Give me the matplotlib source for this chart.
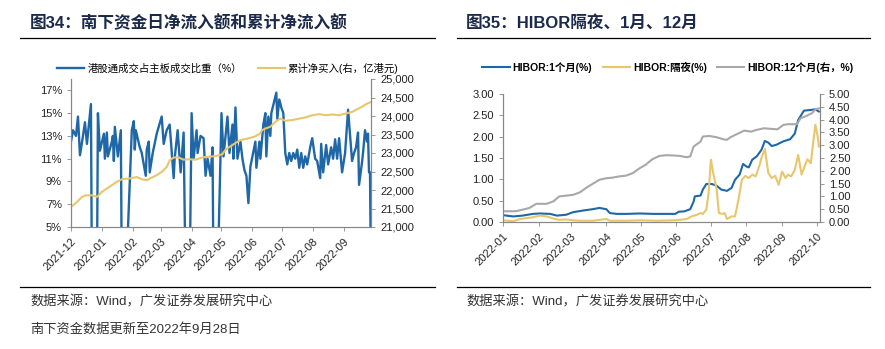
import matplotlib
matplotlib.use('Agg')
import matplotlib.pyplot as plt
import matplotlib.dates as mdates
from matplotlib.lines import Line2D
import pandas as pd

plt.rcParams['font.family'] = ['Liberation Sans', 'Noto Sans CJK SC', 'DejaVu Sans']
plt.rcParams['axes.unicode_minus'] = False

# ---------------------------------------------------------------- data, fig 34
share_dates = [
    '2021-12-01', '2021-12-03', '2021-12-06', '2021-12-08', '2021-12-10', '2021-12-13',
    '2021-12-15', '2021-12-17', '2021-12-21', '2021-12-22', '2021-12-27', '2021-12-28',
    '2021-12-30', '2022-01-03', '2022-01-04', '2022-01-06', '2022-01-07', '2022-01-11',
    '2022-01-12', '2022-01-13', '2022-01-14', '2022-01-17', '2022-01-20', '2022-01-21',
    '2022-01-25', '2022-01-31', '2022-02-02', '2022-02-03', '2022-02-04', '2022-02-08',
    '2022-02-10', '2022-02-14', '2022-02-15', '2022-02-17', '2022-02-18', '2022-02-21',
    '2022-02-25', '2022-03-02', '2022-03-04', '2022-03-07', '2022-03-10', '2022-03-14',
    '2022-03-15', '2022-03-18', '2022-03-21', '2022-03-24', '2022-03-26', '2022-03-30',
    '2022-04-01', '2022-04-03', '2022-04-06', '2022-04-07', '2022-04-10', '2022-04-13',
    '2022-04-15', '2022-04-17', '2022-04-18', '2022-04-20', '2022-04-22', '2022-04-23',
    '2022-04-27', '2022-05-01', '2022-05-03', '2022-05-07', '2022-05-09', '2022-05-12',
    '2022-05-13', '2022-05-15', '2022-05-17', '2022-05-19', '2022-05-20', '2022-05-22',
    '2022-05-24', '2022-05-26', '2022-05-28', '2022-05-30', '2022-06-04', '2022-06-05',
    '2022-06-08', '2022-06-09', '2022-06-12', '2022-06-14', '2022-06-15', '2022-06-17',
    '2022-06-19', '2022-06-20', '2022-06-25', '2022-06-26', '2022-06-28', '2022-06-30',
    '2022-07-02', '2022-07-04', '2022-07-06', '2022-07-08', '2022-07-10', '2022-07-12',
    '2022-07-14', '2022-07-16', '2022-07-18', '2022-07-20', '2022-07-22', '2022-07-24',
    '2022-07-26', '2022-07-29', '2022-07-31', '2022-08-03', '2022-08-05', '2022-08-08',
    '2022-08-09', '2022-08-11', '2022-08-14', '2022-08-16', '2022-08-19', '2022-08-21',
    '2022-08-23', '2022-08-25', '2022-08-27', '2022-08-30', '2022-09-02', '2022-09-05',
    '2022-09-07', '2022-09-09', '2022-09-11', '2022-09-13', '2022-09-15', '2022-09-16',
    '2022-09-19', '2022-09-20', '2022-09-22', '2022-09-24', '2022-09-25', '2022-09-26',
    '2022-09-27', '2022-09-28',
]
share_pct = [
    12.5, 13.5, 13.0, 14.7, 11.3, 13.0,
    14.2, 12.3, 15.8, 0.0, 0.0, 15.0,
    11.7, 13.2, 11.0, 13.3, 11.2, 12.5,
    13.0, 10.8, 13.8, 11.2, 13.5, 0.0,
    0.0, 13.5, 14.3, 11.8, 13.5, 12.0,
    11.5, 9.5, 11.8, 12.5, 9.8, 11.5,
    13.2, 14.7, 12.3, 13.5, 14.0, 9.3,
    11.0, 13.5, 9.8, 13.3, 0.0, 0.0,
    15.0, 11.0, 13.5, 11.5, 13.0, 12.8,
    9.5, 11.0, 10.5, 9.5, 12.0, 0.0,
    0.0, 15.0, 11.2, 14.7, 11.5, 14.0,
    11.0, 15.5, 11.0, 12.0, 12.5, 11.0,
    10.0, 9.5, 7.1, 10.3, 12.5, 10.2,
    12.5, 11.0, 14.0, 15.0, 11.2, 14.7,
    13.0, 15.0, 16.8, 14.5, 16.2, 15.5,
    15.0, 11.5, 10.5, 11.5, 10.8, 11.5,
    11.0, 11.8, 10.2, 11.5, 10.2, 11.2,
    10.5, 12.0, 12.8, 11.0, 10.8, 9.3,
    12.3, 9.8, 12.2, 10.5, 12.0, 11.0,
    12.7, 11.0, 12.8, 9.8, 11.5, 15.3,
    13.0, 10.8, 11.5, 12.0, 13.3, 8.7,
    10.7, 11.5, 13.5, 12.5, 13.2, 9.8,
    9.8, 0.0,
]

cum_dates = [
    '2021-12-01', '2021-12-07', '2021-12-12', '2021-12-16', '2021-12-22', '2021-12-27',
    '2022-01-01', '2022-01-06', '2022-01-11', '2022-01-16', '2022-01-21', '2022-01-28',
    '2022-02-02', '2022-02-05', '2022-02-10', '2022-02-15', '2022-02-20', '2022-02-25',
    '2022-03-02', '2022-03-07', '2022-03-10', '2022-03-14', '2022-03-19', '2022-03-24',
    '2022-03-30', '2022-04-05', '2022-04-12', '2022-04-18', '2022-04-25', '2022-05-02',
    '2022-05-05', '2022-05-10', '2022-05-15', '2022-05-20', '2022-05-27', '2022-06-03',
    '2022-06-08', '2022-06-11', '2022-06-14', '2022-06-19', '2022-06-24', '2022-06-29',
    '2022-07-04', '2022-07-11', '2022-07-18', '2022-07-24', '2022-07-31', '2022-08-07',
    '2022-08-14', '2022-08-20', '2022-08-27', '2022-09-03', '2022-09-09', '2022-09-14',
    '2022-09-19', '2022-09-23', '2022-09-28',
]
cum_net_buy = [
    21540, 21677, 21812, 21857, 21857, 21812,
    21950, 22040, 22130, 22220, 22290, 22310,
    22335, 22350, 22290, 22265, 22335, 22400,
    22490, 22620, 22800, 22880, 22880, 22820,
    22830, 22820, 22880, 22900, 22915, 22970,
    23090, 23180, 23270, 23350, 23390, 23440,
    23510, 23620, 23660, 23710, 23840, 23930,
    23870, 23890, 23930, 23960, 24020, 24050,
    24020, 24040, 24020, 24070, 24110, 24180,
    24250, 24320, 24380,
]

# ---------------------------------------------------------------- data, fig 35
h1m_dates = [
    '2022-01-01', '2022-01-10', '2022-01-18', '2022-01-27', '2022-02-02', '2022-02-11',
    '2022-02-17', '2022-02-25', '2022-03-03', '2022-03-12', '2022-03-20', '2022-03-26',
    '2022-04-01', '2022-04-04', '2022-04-10', '2022-04-19', '2022-04-30', '2022-05-12',
    '2022-05-23', '2022-05-31', '2022-06-03', '2022-06-08', '2022-06-13', '2022-06-16',
    '2022-06-17', '2022-06-22', '2022-06-24', '2022-06-27', '2022-07-02', '2022-07-06',
    '2022-07-10', '2022-07-15', '2022-07-19', '2022-07-22', '2022-07-26', '2022-07-29',
    '2022-08-01', '2022-08-03', '2022-08-06', '2022-08-10', '2022-08-14', '2022-08-17',
    '2022-08-20', '2022-08-23', '2022-08-27', '2022-09-02', '2022-09-08', '2022-09-12',
    '2022-09-15', '2022-09-20', '2022-09-27', '2022-09-30', '2022-10-03',
]
hibor_1m = [
    0.16, 0.13, 0.15, 0.19, 0.20, 0.19,
    0.15, 0.17, 0.23, 0.27, 0.30, 0.33,
    0.30, 0.21, 0.19, 0.19, 0.20, 0.19,
    0.19, 0.19, 0.24, 0.25, 0.30, 0.48,
    0.60, 0.62, 0.76, 0.89, 0.89, 0.85,
    0.76, 0.73, 0.80, 0.99, 1.11, 1.36,
    1.30, 1.28, 1.46, 1.54, 1.69, 1.90,
    1.86, 1.78, 1.81, 1.89, 1.94, 2.07,
    2.39, 2.61, 2.63, 2.64, 2.59,
]

hon_dates = [
    '2022-01-01', '2022-01-10', '2022-01-16', '2022-01-21', '2022-01-27', '2022-02-02',
    '2022-02-08', '2022-02-14', '2022-02-19', '2022-02-25', '2022-03-03', '2022-03-09',
    '2022-03-20', '2022-04-01', '2022-04-04', '2022-04-19', '2022-04-30', '2022-05-15',
    '2022-05-29', '2022-06-04', '2022-06-10', '2022-06-14', '2022-06-19', '2022-06-22',
    '2022-06-24', '2022-06-27', '2022-06-29', '2022-07-01', '2022-07-03', '2022-07-06',
    '2022-07-08', '2022-07-11', '2022-07-13', '2022-07-15', '2022-07-19', '2022-07-22',
    '2022-07-25', '2022-07-28', '2022-07-31', '2022-08-03', '2022-08-06', '2022-08-09',
    '2022-08-12', '2022-08-14', '2022-08-17', '2022-08-20', '2022-08-23', '2022-08-26',
    '2022-08-29', '2022-09-01', '2022-09-04', '2022-09-06', '2022-09-09', '2022-09-12',
    '2022-09-15', '2022-09-18', '2022-09-20', '2022-09-23', '2022-09-26', '2022-09-28',
    '2022-09-30', '2022-10-02', '2022-10-03',
]
hibor_on = [
    0.04, 0.02, 0.07, 0.09, 0.11, 0.15,
    0.13, 0.08, 0.05, 0.06, 0.04, 0.03,
    0.03, 0.07, 0.03, 0.03, 0.04, 0.03,
    0.04, 0.05, 0.07, 0.13, 0.17, 0.21,
    0.19, 0.29, 0.68, 1.46, 1.15, 0.76,
    0.21, 0.19, 0.21, 0.07, 0.13, 0.13,
    0.52, 0.99, 1.08, 1.03, 1.11, 1.07,
    1.30, 1.50, 1.71, 1.15, 1.03, 1.08,
    0.87, 1.18, 1.03, 1.11, 1.07, 1.22,
    1.57, 1.11, 1.26, 1.47, 1.38, 1.85,
    2.28, 2.00, 1.77,
]

h12m_dates = [
    '2022-01-01', '2022-01-12', '2022-01-18', '2022-01-24', '2022-01-30', '2022-02-08',
    '2022-02-14', '2022-02-19', '2022-02-25', '2022-03-03', '2022-03-09', '2022-03-14',
    '2022-03-20', '2022-03-26', '2022-04-01', '2022-04-06', '2022-04-12', '2022-04-18',
    '2022-04-24', '2022-04-30', '2022-05-05', '2022-05-11', '2022-05-17', '2022-05-23',
    '2022-05-29', '2022-06-04', '2022-06-10', '2022-06-13', '2022-06-16', '2022-06-22',
    '2022-06-24', '2022-06-30', '2022-07-06', '2022-07-12', '2022-07-15', '2022-07-18',
    '2022-07-24', '2022-07-30', '2022-08-05', '2022-08-10', '2022-08-16', '2022-08-22',
    '2022-08-28', '2022-09-02', '2022-09-06', '2022-09-14', '2022-09-17', '2022-09-21',
    '2022-09-27', '2022-09-30', '2022-10-03',
]
hibor_12m = [
    0.42, 0.42, 0.48, 0.55, 0.71, 0.71,
    0.81, 1.00, 1.03, 1.06, 1.16, 1.32,
    1.49, 1.65, 1.71, 1.73, 1.78, 1.81,
    1.91, 2.10, 2.23, 2.45, 2.58, 2.61,
    2.60, 2.58, 2.53, 2.56, 2.95, 3.14,
    3.34, 3.36, 3.31, 3.23, 3.21, 3.31,
    3.44, 3.57, 3.53, 3.60, 3.66, 3.64,
    3.62, 3.79, 3.82, 3.82, 4.05, 4.12,
    4.25, 4.40, 4.44,
]

BLUE = '#1f67a6'
GOLD = '#e8c66c'
GREY = '#a8a8a8'
NAVY = '#1b2a4a'
TXT = '#333333'


def style_axes(ax, ax2):
    for a in (ax, ax2):
        a.spines['top'].set_visible(False)
        for s in a.spines.values():
            s.set_color('#888888')
            s.set_linewidth(0.8)
        a.tick_params(labelsize=8, colors='#222222', length=3, width=0.6, color='#888888')
    ax.xaxis.set_major_locator(mdates.MonthLocator())
    ax.xaxis.set_major_formatter(mdates.DateFormatter('%Y-%m'))
    for lab in ax.get_xticklabels():
        lab.set_rotation(45)
        lab.set_ha('right')
        lab.set_rotation_mode('anchor')


fig = plt.figure(figsize=(8.85, 3.49), dpi=100)

# titles and rules
fig.text(30 / 885, 1 - 23 / 349, '图34：南下资金日净流入额和累计净流入额', fontsize=12,
         fontweight='bold', color=NAVY, va='center')
fig.text(466 / 885, 1 - 23 / 349, '图35：HIBOR隔夜、1月、12月', fontsize=12,
         fontweight='bold', color=NAVY, va='center')
for x0, x1 in ((20, 435), (457, 870)):
    for yy in (38, 287):
        fig.add_artist(Line2D([x0 / 885, x1 / 885], [1 - yy / 349] * 2,
                              color='black', lw=0.9))

fig.text(30 / 885, 1 - 302 / 349, '数据来源：Wind，广发证券发展研究中心', fontsize=9.5,
         color=TXT, va='center')
fig.text(30 / 885, 1 - 329 / 349, '南下资金数据更新至2022年9月28日', fontsize=9.5,
         color=TXT, va='center')
fig.text(466 / 885, 1 - 302 / 349, '数据来源：Wind，广发证券发展研究中心', fontsize=9.5,
         color=TXT, va='center')

# ---------------------------------------------------------------- fig 34
ax1 = fig.add_axes([71 / 885, 1 - 227 / 349, 300 / 885, 148 / 349])
ax1b = ax1.twinx()
l1, = ax1.plot(pd.to_datetime(share_dates), share_pct, color=BLUE, lw=1.7,
               label='港股通成交占主板成交比重（%）')
l2, = ax1b.plot(pd.to_datetime(cum_dates), cum_net_buy, color=GOLD, lw=1.5,
                label='累计净买入(右，亿港元)')
ax1.set_ylim(5, 18)
ax1.set_yticks(range(5, 18, 2))
ax1.set_yticklabels([f'{v}%' for v in range(5, 18, 2)])
ax1b.set_ylim(21000, 25000)
ax1b.set_yticks(range(21000, 25001, 500))
ax1b.set_yticklabels([f'{v:,}' for v in range(21000, 25001, 500)])
ax1.set_xlim(pd.Timestamp('2021-12-01'), pd.Timestamp('2022-09-28'))
style_axes(ax1, ax1b)
fig.legend(handles=[l1, l2], loc='center', bbox_to_anchor=(228 / 885, 1 - 68 / 349),
           ncol=2, frameon=False, fontsize=7.5, handlelength=2.6, columnspacing=1.5,
           handletextpad=0.3)

# ---------------------------------------------------------------- fig 35
ax2 = fig.add_axes([503 / 885, 1 - 222 / 349, 317 / 885, 128 / 349])
ax2b = ax2.twinx()
m1, = ax2.plot(pd.to_datetime(h1m_dates), hibor_1m, color=BLUE, lw=1.5,
               label='HIBOR:1个月(%)')
m2, = ax2.plot(pd.to_datetime(hon_dates), hibor_on, color=GOLD, lw=1.5,
               label='HIBOR:隔夜(%)')
m3, = ax2b.plot(pd.to_datetime(h12m_dates), hibor_12m, color=GREY, lw=1.5,
                label='HIBOR:12个月(右，%)')
ax2.set_ylim(0, 3)
ax2.set_yticks([i * 0.5 for i in range(7)])
ax2.set_yticklabels([f'{i * 0.5:.2f}' for i in range(7)])
ax2b.set_ylim(0, 5)
ax2b.set_yticks([i * 0.5 for i in range(11)])
ax2b.set_yticklabels([f'{i * 0.5:.2f}' for i in range(11)])
ax2.set_xlim(pd.Timestamp('2022-01-01'), pd.Timestamp('2022-10-04'))
style_axes(ax2, ax2b)
leg = fig.legend(handles=[m1, m2, m3], loc='center', bbox_to_anchor=(668 / 885, 1 - 67 / 349),
                 ncol=3, frameon=False, fontsize=7.5, handlelength=2.6, columnspacing=1.0,
                 handletextpad=0.3)
for t in leg.get_texts():
    t.set_fontweight('bold')

fig.savefig('out.png', dpi=100)
